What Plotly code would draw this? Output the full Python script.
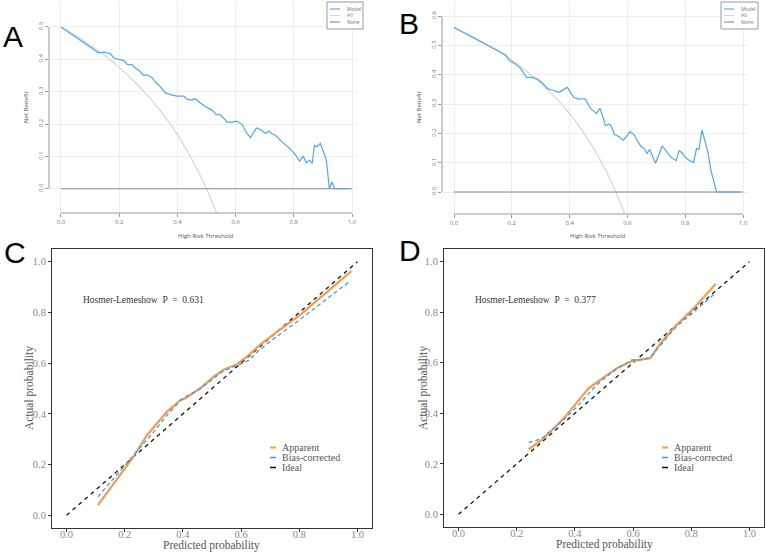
import plotly.graph_objects as go

# ---------------- data: decision curves ----------------
thr_a = [0, 0.13, 0.148, 0.17, 0.182, 0.205, 0.216, 0.228, 0.245, 0.256, 0.268, 0.283, 0.296,
         0.313, 0.325, 0.342, 0.359, 0.376, 0.399, 0.422, 0.434, 0.451, 0.462, 0.479, 0.497,
         0.519, 0.534, 0.548, 0.571, 0.588, 0.603, 0.622, 0.637, 0.651, 0.672, 0.685, 0.703,
         0.714, 0.725, 0.737, 0.76, 0.783, 0.805, 0.82, 0.832, 0.843, 0.855, 0.863, 0.871,
         0.88, 0.891, 0.903, 0.912, 0.922, 0.931, 0.94, 0.99]
model_a = [0.5, 0.42, 0.422, 0.417, 0.404, 0.399, 0.396, 0.384, 0.383, 0.373, 0.366, 0.35, 0.352,
           0.343, 0.329, 0.315, 0.296, 0.291, 0.286, 0.286, 0.276, 0.274, 0.278, 0.265, 0.253,
           0.243, 0.229, 0.228, 0.206, 0.206, 0.209, 0.199, 0.173, 0.158, 0.188, 0.183, 0.171,
           0.178, 0.17, 0.165, 0.144, 0.127, 0.106, 0.085, 0.101, 0.08, 0.088, 0.078, 0.134,
           0.13, 0.14, 0.111, 0.087, 0.0, 0.021, 0.0, 0.0]
all_thr_a = [0, 0.05, 0.1, 0.15, 0.2, 0.25, 0.3, 0.35, 0.4, 0.45, 0.5, 0.54]
all_a = [0.5, 0.474, 0.444, 0.412, 0.375, 0.333, 0.286, 0.231, 0.167, 0.091, 0.0, -0.087]

thr_b = [0, 0.179, 0.19, 0.213, 0.23, 0.251, 0.271, 0.288, 0.305, 0.323, 0.34, 0.363, 0.38,
         0.392, 0.403, 0.415, 0.432, 0.444, 0.455, 0.472, 0.493, 0.505, 0.513, 0.524, 0.536,
         0.544, 0.555, 0.57, 0.585, 0.597, 0.608, 0.622, 0.631, 0.647, 0.657, 0.668, 0.677,
         0.697, 0.72, 0.732, 0.74, 0.751, 0.768, 0.779, 0.789, 0.798, 0.812, 0.829, 0.839,
         0.847, 0.858, 0.87, 0.878, 0.889, 0.908, 0.99]
model_b = [0.561, 0.467, 0.45, 0.436, 0.422, 0.391, 0.391, 0.385, 0.373, 0.353, 0.348, 0.34, 0.35,
           0.357, 0.339, 0.322, 0.317, 0.318, 0.316, 0.285, 0.268, 0.285, 0.263, 0.226, 0.232,
           0.225, 0.197, 0.189, 0.177, 0.189, 0.206, 0.197, 0.18, 0.155, 0.149, 0.132, 0.145,
           0.098, 0.157, 0.141, 0.134, 0.118, 0.107, 0.141, 0.134, 0.12, 0.109, 0.1, 0.149,
           0.145, 0.211, 0.172, 0.138, 0.073, 0.0, 0.0]
all_thr_b = [0, 0.05, 0.1, 0.15, 0.2, 0.25, 0.3, 0.35, 0.4, 0.45, 0.5, 0.55, 0.6]
all_b = [0.56, 0.537, 0.511, 0.482, 0.45, 0.413, 0.371, 0.323, 0.267, 0.2, 0.12, 0.022, -0.1]

none_thr = [0, 1]
none_val = [0, 0]

# ---------------- data: calibration curves ----------------
pred_app_c = [0.108, 0.226, 0.277, 0.346, 0.392, 0.409, 0.46, 0.506, 0.54, 0.586, 0.626, 0.666,
              0.711, 0.803, 0.979]
act_app_c = [0.04, 0.224, 0.317, 0.409, 0.455, 0.462, 0.501, 0.547, 0.574, 0.596, 0.631, 0.673,
             0.712, 0.79, 0.963]
pred_bc_c = [0.108, 0.232, 0.3, 0.346, 0.4, 0.46, 0.506, 0.54, 0.594, 0.627, 0.666, 0.711, 0.8,
             0.974]
act_bc_c = [0.073, 0.237, 0.33, 0.396, 0.462, 0.5, 0.54, 0.57, 0.594, 0.612, 0.655, 0.695, 0.77,
            0.923]

pred_app_d = [0.241, 0.292, 0.361, 0.418, 0.447, 0.487, 0.544, 0.596, 0.624, 0.659, 0.693, 0.75,
              0.808, 0.884]
act_app_d = [0.257, 0.3, 0.379, 0.459, 0.499, 0.532, 0.578, 0.607, 0.611, 0.618, 0.675, 0.75,
             0.815, 0.912]
pred_bc_d = [0.241, 0.286, 0.361, 0.418, 0.452, 0.487, 0.544, 0.596, 0.624, 0.659, 0.693, 0.75,
             0.808, 0.884]
act_bc_d = [0.284, 0.3, 0.373, 0.439, 0.485, 0.525, 0.576, 0.611, 0.611, 0.621, 0.668, 0.745,
            0.8, 0.877]
ideal = [0, 1]

hl_c = "Hosmer-Lemeshow  P  =  0.631"
hl_d = "Hosmer-Lemeshow  P  =  0.377"
dca_legend = ["Model", "All", "None"]
cal_legend = ["Apparent", "Bias-corrected", "Ideal"]
dca_ticks = [0, 0.2, 0.4, 0.6, 0.8, 1.0]
cal_ticks = [0, 0.2, 0.4, 0.6, 0.8, 1.0]

# ---------------- styling ----------------
W, H = 767, 553
BLUE = "#4ea5f7"
ALLC = "#d6d6d6"
NONEC = "#8a8a8a"
ORANGE = "#f79a4c"
BCBLUE = "#3a9bf2"
SANS = "Open Sans, Liberation Sans, sans-serif"
SERIF = "Liberation Serif, DejaVu Serif, serif"


def px(x):
    return x / W


def py(y):
    return 1 - y / H


fig = go.Figure()

# DCA A
fig.add_trace(go.Scatter(x=all_thr_a, y=all_a, mode="lines", line=dict(color=ALLC, width=1.2, shape="spline"),
                         xaxis="x", yaxis="y", showlegend=False))
fig.add_trace(go.Scatter(x=none_thr, y=none_val, mode="lines", line=dict(color=NONEC, width=1.1),
                         xaxis="x", yaxis="y", showlegend=False))
fig.add_trace(go.Scatter(x=thr_a, y=model_a, mode="lines", line=dict(color=BLUE, width=1.2),
                         xaxis="x", yaxis="y", showlegend=False))
# DCA B
fig.add_trace(go.Scatter(x=all_thr_b, y=all_b, mode="lines", line=dict(color=ALLC, width=1.2, shape="spline"),
                         xaxis="x2", yaxis="y2", showlegend=False))
fig.add_trace(go.Scatter(x=none_thr, y=none_val, mode="lines", line=dict(color=NONEC, width=1.1),
                         xaxis="x2", yaxis="y2", showlegend=False))
fig.add_trace(go.Scatter(x=thr_b, y=model_b, mode="lines", line=dict(color=BLUE, width=1.2),
                         xaxis="x2", yaxis="y2", showlegend=False))
# Calibration C
fig.add_trace(go.Scatter(x=ideal, y=ideal, mode="lines", line=dict(color="#111", width=1.3, dash="4px,4px"),
                         xaxis="x3", yaxis="y3", showlegend=False))
fig.add_trace(go.Scatter(x=pred_app_c, y=act_app_c, mode="lines", line=dict(color=ORANGE, width=2.2),
                         xaxis="x3", yaxis="y3", showlegend=False))
fig.add_trace(go.Scatter(x=pred_bc_c, y=act_bc_c, mode="lines", line=dict(color=BCBLUE, width=1.3, dash="4px,3px"),
                         xaxis="x3", yaxis="y3", showlegend=False))
# Calibration D
fig.add_trace(go.Scatter(x=ideal, y=ideal, mode="lines", line=dict(color="#111", width=1.3, dash="4px,4px"),
                         xaxis="x4", yaxis="y4", showlegend=False))
fig.add_trace(go.Scatter(x=pred_app_d, y=act_app_d, mode="lines", line=dict(color=ORANGE, width=2.2),
                         xaxis="x4", yaxis="y4", showlegend=False))
fig.add_trace(go.Scatter(x=pred_bc_d, y=act_bc_d, mode="lines", line=dict(color=BCBLUE, width=1.3, dash="4px,3px"),
                         xaxis="x4", yaxis="y4", showlegend=False))

dca_tickfont = dict(family=SANS, size=6, color="#777")
dca_ax = dict(showgrid=True, gridcolor="#eeeeee", gridwidth=1, zeroline=False, showline=False,
              ticks="outside", ticklen=3, tickcolor="#999", tickfont=dca_tickfont)
cal_tickfont = dict(family=SERIF, size=10.5, color="#8a8a8a")
cal_ax = dict(showgrid=False, zeroline=False, showline=True, linecolor="#333", linewidth=1, mirror=True,
              ticks="outside", ticklen=3, tickcolor="#333", tickfont=cal_tickfont,
              tickvals=cal_ticks, ticktext=["0.0", "0.2", "0.4", "0.6", "0.8", "1.0"])

fig.update_layout(
    width=W, height=H, autosize=False, margin=dict(l=0, r=0, t=0, b=0),
    paper_bgcolor="white", plot_bgcolor="white", showlegend=False,
    xaxis=dict(domain=[px(49), px(357)], range=[-0.041, 1.017], anchor="y",
               tickvals=dca_ticks, ticktext=["0.0", "0.2", "0.4", "0.6", "0.8", "1.0"], **dca_ax),
    yaxis=dict(domain=[py(213), py(2)], range=[-0.075, 0.577], anchor="x",
               tickvals=[0, 0.1, 0.2, 0.3, 0.4, 0.5], ticktext=["0.0", "0.1", "0.2", "0.3", "0.4", "0.5"],
               tickangle=-90, **dca_ax),
    xaxis2=dict(domain=[px(442), px(748)], range=[-0.0415, 1.017], anchor="y2",
                tickvals=dca_ticks, ticktext=["0.0", "0.2", "0.4", "0.6", "0.8", "1.0"], **dca_ax),
    yaxis2=dict(domain=[py(214), py(2)], range=[-0.075, 0.648], anchor="x2",
                tickvals=[0, 0.1, 0.2, 0.3, 0.4, 0.5, 0.6],
                ticktext=["0.0", "0.1", "0.2", "0.3", "0.4", "0.5", "0.6"], tickangle=-90, **dca_ax),
    xaxis3=dict(domain=[px(52), px(372)], range=[-0.05, 1.05], anchor="y3", **cal_ax),
    yaxis3=dict(domain=[py(528), py(249)], range=[-0.05, 1.05], anchor="x3", **cal_ax),
    xaxis4=dict(domain=[px(444), px(764)], range=[-0.05, 1.05], anchor="y4", **cal_ax),
    yaxis4=dict(domain=[py(527), py(249)], range=[-0.05, 1.05], anchor="x4", **cal_ax),
)

# pull the calibration x tick labels closer to the axis (as in the reference)
try:
    fig.update_layout(xaxis3_ticklabelstandoff=-7, xaxis4_ticklabelstandoff=-7)
except Exception:
    pass

shapes = []
# DCA axis lines (R style: from first to last tick)
for xr, yr, ymax in [("x", "y", 0.5), ("x2", "y2", 0.6)]:
    shapes.append(dict(type="line", xref=xr, yref=yr + " domain", x0=0, x1=1, y0=0, y1=0,
                       line=dict(color="#999", width=1)))
    shapes.append(dict(type="line", xref=xr + " domain", yref=yr, x0=0, x1=0, y0=0, y1=ymax,
                       line=dict(color="#999", width=1)))

annotations = []
# DCA legends
for (bx0, bx1, lx0, lx1, tx) in [(327, 363, 330, 340, 345), (721, 758, 724, 734, 739)]:
    shapes.append(dict(type="rect", xref="paper", yref="paper", x0=px(bx0), x1=px(bx1), y0=py(29), y1=py(2),
                       line=dict(color="#9a9a9a", width=1), fillcolor="white", layer="above"))
    for lab, col, yy in zip(dca_legend, [BLUE, ALLC, NONEC], [9, 15.5, 22]):
        shapes.append(dict(type="line", xref="paper", yref="paper", x0=px(lx0), x1=px(lx1), y0=py(yy), y1=py(yy),
                           line=dict(color=col, width=1.1), layer="above"))
        annotations.append(dict(text=lab, xref="paper", yref="paper", x=px(tx), y=py(yy), xanchor="left",
                                yanchor="middle", showarrow=False, font=dict(family=SANS, size=5, color="#777")))

# DCA axis titles
for cx in [206, 598]:
    annotations.append(dict(text="High Risk Threshold", xref="paper", yref="paper", x=px(cx), y=py(236),
                            xanchor="center", yanchor="middle", showarrow=False,
                            font=dict(family=SANS, size=6, color="#555")))
for cx in [26, 419]:
    annotations.append(dict(text="Net Benefit", xref="paper", yref="paper", x=px(cx), y=py(107),
                            xanchor="center", yanchor="middle", showarrow=False, textangle=-90,
                            font=dict(family=SANS, size=6, color="#555")))

# Calibration titles
for cx, cy in [(211, 545), (604, 544)]:
    annotations.append(dict(text="Predicted probability", xref="paper", yref="paper", x=px(cx), y=py(cy),
                            xanchor="center", yanchor="middle", showarrow=False,
                            font=dict(family=SERIF, size=11.5, color="#555")))
for cx in [30, 424]:
    annotations.append(dict(text="Actual probability", xref="paper", yref="paper", x=px(cx), y=py(388),
                            xanchor="center", yanchor="middle", showarrow=False, textangle=-90,
                            font=dict(family=SERIF, size=11.5, color="#555")))

# Hosmer-Lemeshow text
for txt, xr, yr in [(hl_c, "x3", "y3"), (hl_d, "x4", "y4")]:
    annotations.append(dict(text=txt, xref=xr, yref=yr, x=0.05, y=0.85, xanchor="left", yanchor="middle",
                            showarrow=False, font=dict(family=SERIF, size=9.5, color="#333")))

# Calibration legends
for kx0, tx in [(270, 281), (662, 673)]:
    for lab, col, yy in zip(cal_legend, [ORANGE, BCBLUE, "#111"], [447.5, 457.5, 467.5]):
        shapes.append(dict(type="line", xref="paper", yref="paper", x0=px(kx0), x1=px(kx0 + 6),
                           y0=py(yy), y1=py(yy), line=dict(color=col, width=2 if lab == "Apparent" else 1.5)))
        annotations.append(dict(text=lab, xref="paper", yref="paper", x=px(tx), y=py(yy), xanchor="left",
                                yanchor="middle", showarrow=False, borderpad=0,
                                font=dict(family=SERIF, size=10, color="#555")))

# Panel letters
for lab, cx, cy in [("A", 13, 37), ("B", 409, 24), ("C", 15, 252), ("D", 410, 251)]:
    annotations.append(dict(text=lab, xref="paper", yref="paper", x=px(cx), y=py(cy), xanchor="center",
                            yanchor="middle", showarrow=False,
                            font=dict(family="Liberation Sans, Arial, sans-serif", size=30, color="black")))

fig.update_layout(shapes=shapes, annotations=annotations)
fig.write_html("out.html")
